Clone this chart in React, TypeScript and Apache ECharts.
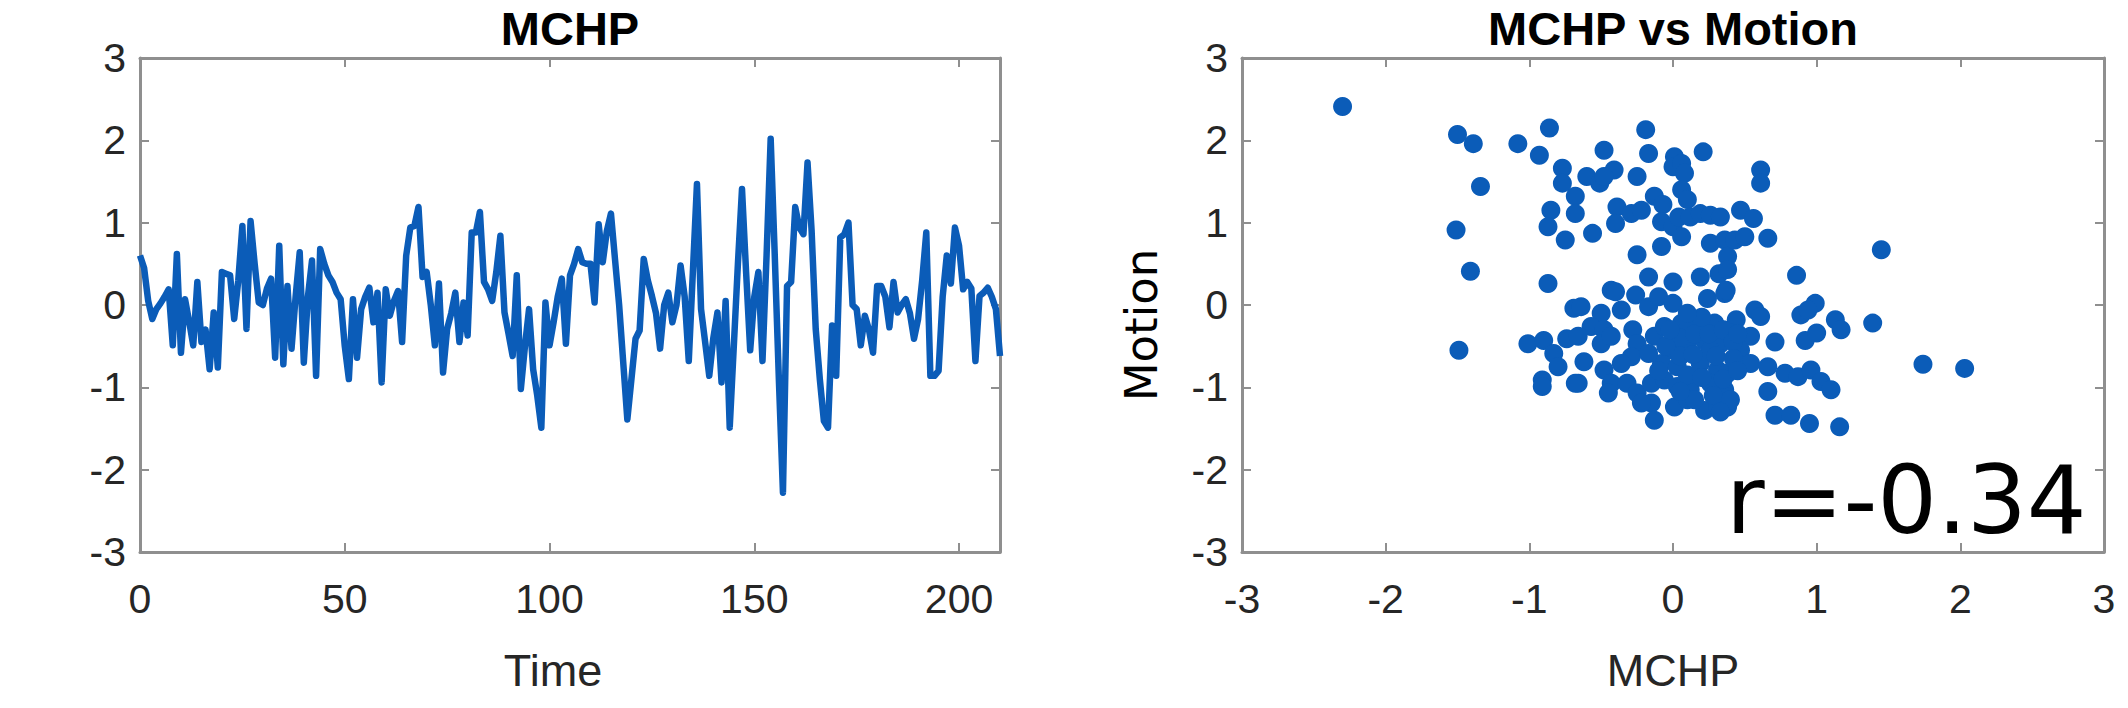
import React, { useEffect, useRef } from "react";
import * as echarts from "echarts";

// ---- Data ----
const mchpSeries: number[] = [
  0.6, 0.45, 0.05, -0.17, -0.05, 0.02, 0.1, 0.19, -0.49, 0.62,
  -0.58, 0.07, -0.2, -0.49, 0.28, -0.45, -0.3, -0.78, -0.09, -0.76,
  0.4, 0.38, 0.36, -0.17, 0.3, 0.96, -0.29, 1.02, 0.5, 0.03,
  0.0, 0.2, 0.32, -0.64, 0.72, -0.72, 0.23, -0.53, 0.1, 0.64,
  -0.7, 0.1, 0.54, -0.86, 0.68, 0.5, 0.36, 0.28, 0.15, 0.07,
  -0.5, -0.9, 0.07, -0.64, -0.05, 0.1, 0.21, -0.21, 0.15, -0.94,
  0.19, -0.13, 0.05, 0.17, -0.45, 0.6, 0.94, 0.96, 1.19, 0.34,
  0.4, 0.0, -0.49, 0.26, -0.82, -0.29, -0.1, 0.15, -0.45, 0.03,
  -0.37, 0.88, 0.88, 1.13, 0.28, 0.19, 0.05, 0.4, 0.84, -0.09,
  -0.35, -0.62, 0.36, -1.02, -0.5, -0.05, -0.78, -1.1, -1.49, 0.03,
  -0.49, -0.21, 0.1, 0.32, -0.47, 0.36, 0.5, 0.68, 0.52, 0.5,
  0.5, 0.03, 0.98, 0.52, 0.9, 1.11, 0.55, 0.0, -0.7, -1.39,
  -0.9, -0.41, -0.31, 0.56, 0.3, 0.11, -0.1, -0.53, 0.0, 0.15,
  -0.21, 0.0, 0.48, 0.1, -0.68, 0.4, 1.47, -0.05, -0.45, -0.86,
  -0.4, -0.09, -0.94, 0.05, -1.49, -0.5, 0.5, 1.41, 0.4, -0.55,
  0.1, 0.4, -0.68, 0.6, 2.02, 0.6, -0.9, -2.28, 0.23, 0.28,
  1.19, 0.94, 0.86, 1.73, 0.9, -0.29, -0.9, -1.41, -1.49, -0.25,
  -0.86, 0.82, 0.86, 1.0, 0.0, -0.05, -0.49, -0.13, -0.3, -0.58,
  0.23, 0.23, 0.1, -0.27, 0.28, -0.09, 0.0, 0.07, -0.1, -0.41,
  -0.17, 0.3, 0.88, -0.86, -0.86, -0.8, 0.1, 0.6, 0.26, 0.94,
  0.72, 0.19, 0.28, 0.2, -0.68, 0.11, 0.15, 0.21, 0.1, -0.05,
  -0.62,
];

const scatterMchp: number[] = [
  -2.3, -1.5, -1.39, -1.08, -0.86, -0.93, -0.77, -0.77, -0.68, -0.68,
  -1.34, -1.51, -0.85, -0.87, -0.75, -1.41, -0.87, -0.69, -1.01, -0.9,
  -0.74, -0.83, -0.8, -0.91, -0.91, -0.68, -1.49,
  -0.19, -0.48, -0.17, 0.01, 0.21, 0.0, 0.06, 0.08, -0.6, -0.51,
  -0.41, -0.48, -0.25, -0.39, -0.4, -0.29, -0.22, -0.13, -0.07, -0.08,
  0.0, 0.04, 0.06, 0.1, 0.12, 0.19, 0.26, 0.06, -0.08, -0.25,
  -0.56, 0.26, 0.36, 0.38, -0.17, 0.0, 0.19, 0.32, -0.43, -0.26,
  -0.17, -0.1, 0.0, 0.24, 0.36, -0.64, -0.5, -0.36, -0.57, -0.48,
  -0.66, -0.5, -0.43, -0.28, -0.25, -0.13, -0.06, 0.06, 0.17, 0.29,
  0.0, 0.1, 0.22, 0.33, -0.08, 0.03, 0.19, 0.31, -0.29, -0.36,
  -0.62, -0.66, -0.48, -0.43, -0.45, -0.32, -0.25, -0.15, -0.06, 0.03,
  0.12, 0.26, 0.36, -0.15, -0.22, 0.01, 0.1, 0.22, 0.31, -0.13,
  0.0, 0.1, -0.17, 0.26,
  0.61, 0.61, 0.47, 0.56, 0.66, 0.33, 0.43, 0.5, 0.38, 0.37,
  0.86, 1.45, 0.57, 0.61, 0.44, 0.89, 0.99, 0.94, 1.13, 1.17,
  1.39, 0.92, 1.0, 0.71, 0.54, 0.4, 0.47, 0.54, 0.66, 0.78,
  0.87, 0.96, 1.03, 1.1, 0.66, 0.71, 0.82, 0.95, 1.16, 0.38,
  0.38, 1.74, 2.03, -0.4,
  0.05, 0.15, 0.25, 0.35, 0.05, 0.14, 0.3, 0.42, 0.1, 0.2,
  0.35, 0.42, 0.15, 0.28, 0.4, 0.33, -0.05, -0.1, 0.45, 0.45,
  0.2, 0.1, 0.05, -0.02,
];

const scatterMotion: number[] = [
  2.41, 2.07, 1.96, 1.96, 2.15, 1.82, 1.66, 1.48, 1.32, 1.11,
  1.44, 0.91, 1.15, 0.95, 0.79, 0.41, 0.26, -0.04, -0.47, -0.43,
  -0.41, -0.59, -0.75, -0.91, -0.99, -0.95, -0.55,
  2.13, 1.88, 1.84, 1.8, 1.86, 1.68, 1.72, 1.6, 1.56, 1.48,
  1.64, 1.56, 1.56, 1.19, 0.99, 1.11, 1.15, 1.32, 1.22, 1.01,
  0.95, 1.07, 1.4, 1.28, 1.07, 1.11, 1.09, 0.83, 0.71, 0.61,
  0.87, 0.75, 0.79, 0.59, 0.34, 0.28, 0.34, 0.38, 0.18, 0.12,
  -0.02, 0.1, 0.02, 0.08, 0.14, -0.02, -0.1, -0.06, -0.26, -0.3,
  -0.38, -0.47, -0.38, -0.3, -0.47, -0.38, -0.26, -0.22, -0.22, -0.22,
  -0.55, -0.47, -0.43, -0.47, -0.71, -0.75, -0.71, -0.79, -0.63, -0.71,
  -0.69, -0.95, -0.79, -0.95, -1.07, -0.95, -1.07, -0.95, -0.91, -0.99,
  -1.03, -0.95, -1.03, -1.19, -1.19, -1.24, -1.15, -1.28, -1.24, -1.4,
  -0.34, -0.3, -0.59, -0.55,
  1.64, 1.48, 1.15, 1.05, 0.81, 1.07, 0.79, 0.83, 0.43, 0.18,
  0.36, 0.67, -0.06, -0.14, -0.18, -0.12, 0.02, -0.06, -0.18, -0.3,
  -0.22, -0.43, -0.34, -0.45, -0.38, -0.34, -0.55, -0.71, -0.75, -0.83,
  -0.87, -0.79, -0.93, -1.03, -1.05, -1.34, -1.34, -1.44, -1.48, -0.83,
  -1.24, -0.72, -0.77, 0.16,
  -0.4, -0.35, -0.35, -0.3, -0.62, -0.6, -0.62, -0.45, -0.85, -0.88,
  -0.9, -0.65, -1.15, -1.1, -1.15, -1.3, -0.5, -0.8, -0.8, -0.35,
  -0.15, -0.1, -1.05, -0.3,
];

const timeTicks = [0, 50, 100, 150, 200];
const valueTicks = [-3, -2, -1, 0, 1, 2, 3];
const correlationLabel = "r=-0.34";

const BLUE = "#0b5cb8";
const FRAME = "#8f8f8f";
const LABEL = "#262626";
const FONT = '"Liberation Sans", Arial, Helvetica, sans-serif';

function frameAxis(extra: any) {
  return {
    type: "value",
    axisLine: { show: true, onZero: false, lineStyle: { color: FRAME, width: 3 } },
    axisTick: { show: true, inside: true, length: 9, lineStyle: { color: FRAME, width: 2 } },
    splitLine: { show: false },
    ...extra,
  };
}

export default function App() {
  const ref = useRef<HTMLDivElement>(null);

  useEffect(() => {
    document.body.style.margin = "0";
    const chart = echarts.init(ref.current!, null, { renderer: "svg" });
    const lineData = mchpSeries.map((v, i) => [i, v]);
    const scatterData = scatterMchp.map((x, i) => [x, scatterMotion[i]]);

    const labelStyle = (show: boolean, margin: number, extra: any = {}) => ({
      show,
      color: LABEL,
      fontSize: 41,
      fontFamily: FONT,
      margin,
      ...extra,
    });

    const tmax = timeTicks[timeTicks.length - 1] + 10;
    const vmin = valueTicks[0];
    const vmax = valueTicks[valueTicks.length - 1];

    chart.setOption({
      animation: false,
      backgroundColor: "#ffffff",
      grid: [
        { left: 140, top: 58, width: 860, height: 494 },
        { left: 1242, top: 58, width: 862, height: 494 },
      ],
      xAxis: [
        frameAxis({
          gridIndex: 0, position: "bottom", min: timeTicks[0], max: tmax, interval: 50,
          axisLabel: labelStyle(true, 26, { showMaxLabel: false }),
          name: "Time", nameLocation: "middle", nameGap: 96,
          nameTextStyle: { color: LABEL, fontSize: 45, fontFamily: FONT, padding: [0, 34, 0, 0] },
        }),
        frameAxis({
          gridIndex: 0, position: "top", min: timeTicks[0], max: tmax, interval: 50,
          axisLabel: { show: false },
        }),
        frameAxis({
          gridIndex: 1, position: "bottom", min: vmin, max: vmax, interval: 1,
          axisLabel: labelStyle(true, 26),
          name: "MCHP", nameLocation: "middle", nameGap: 96,
          nameTextStyle: { color: LABEL, fontSize: 45, fontFamily: FONT },
        }),
        frameAxis({
          gridIndex: 1, position: "top", min: vmin, max: vmax, interval: 1,
          axisLabel: { show: false },
        }),
      ],
      yAxis: [
        frameAxis({
          gridIndex: 0, position: "left", min: vmin, max: vmax, interval: 1,
          axisLabel: labelStyle(true, 14),
        }),
        frameAxis({
          gridIndex: 0, position: "right", min: vmin, max: vmax, interval: 1,
          axisLabel: { show: false },
        }),
        frameAxis({
          gridIndex: 1, position: "left", min: vmin, max: vmax, interval: 1,
          axisLabel: labelStyle(true, 14),
          name: "Motion", nameLocation: "middle", nameGap: 78,
          nameTextStyle: { color: "#000", fontSize: 45, fontFamily: '"DejaVu Sans", sans-serif', padding: [0, 40, 0, 0] },
        }),
        frameAxis({
          gridIndex: 1, position: "right", min: vmin, max: vmax, interval: 1,
          axisLabel: { show: false },
        }),
      ],
      series: [
        {
          type: "line", xAxisIndex: 0, yAxisIndex: 0, data: lineData, showSymbol: false, symbol: "none",
          lineStyle: { color: BLUE, width: 6.5, join: "round" }, z: 3,
        },
        {
          type: "scatter", xAxisIndex: 2, yAxisIndex: 2, data: scatterData, symbol: "circle", symbolSize: 19,
          itemStyle: { color: BLUE, opacity: 1 }, z: 3,
        },
      ],
      graphic: [
        {
          type: "text", x: 570, y: 28,
          style: { text: "MCHP", font: `bold 47px ${FONT}`, fill: "#000", align: "center", verticalAlign: "middle" },
        },
        {
          type: "text", x: 1673, y: 28,
          style: { text: "MCHP vs Motion", font: `bold 47px ${FONT}`, fill: "#000", align: "center", verticalAlign: "middle" },
        },
        {
          type: "text", x: 1726, y: 500, z: 10,
          style: { text: correlationLabel, font: '94px "DejaVu Sans", sans-serif', fill: "#000", align: "left", verticalAlign: "middle" },
        },
      ],
    });

    return () => chart.dispose();
  }, []);

  return (
    <div
      ref={ref}
      style={{ position: "absolute", left: 0, top: 0, width: 2128, height: 708, background: "#fff" }}
    />
  );
}
